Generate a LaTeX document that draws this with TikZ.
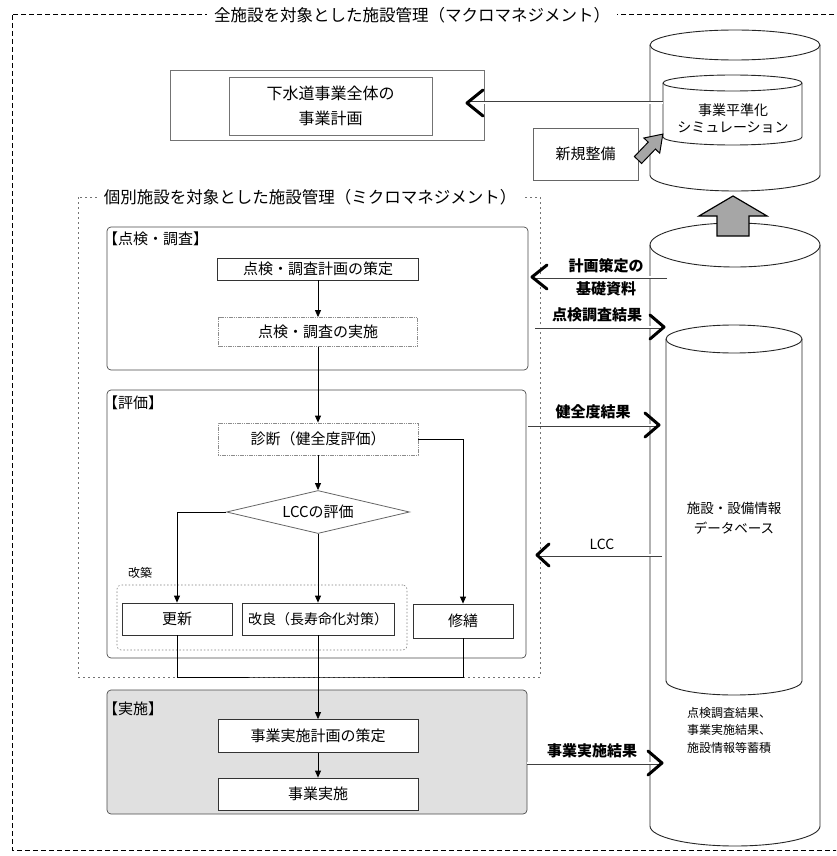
\documentclass[tikz,border=0pt]{standalone}
\usepackage{fontspec}
\setmainfont{Noto Sans CJK JP}
\usetikzlibrary{shapes.geometric,arrows.meta,calc}
\begin{document}
\begin{tikzpicture}[x=1pt,y=-1pt,
 fs/.style={font=\fontsize{#1}{18}\selectfont},
 frm/.style={draw=black!70, line width=0.7pt, rounded corners=4pt, inner sep=0pt},
 box/.style={draw=black!80, line width=0.8pt, fill=white, inner sep=0pt, font=\fontsize{15}{18}\selectfont},
 lbox/.style={box, draw=black!45, dash pattern=on 1.2pt off 0.6pt},
 flow/.style={draw=black, line width=0.8pt, -{Triangle[length=7pt,width=6pt]}},
 fline/.style={draw=black, line width=0.8pt},
 shaftout/.style={draw=black!75, line width=3pt},
 shaftin/.style={draw=white, line width=1.5pt},
 chev/.style={draw=black, line width=3pt, line cap=round, line join=round},
 lbl/.style={font=\bfseries\fontsize{15}{18}\selectfont, inner sep=0pt},
 fat/.style={draw=black, line width=1.2pt, fill=black!35, line join=miter},
 cyl/.style={draw=black!85, line width=0.9pt, fill=white},
 ttl/.style={fill=white, inner xsep=7pt, inner ysep=2pt, font=\fontsize{16.5}{20}\selectfont}
]
\useasboundingbox (0,0) rectangle (836,856);
\clip (0,0) rectangle (836,856);
\fill[white] (0,0) rectangle (836,856);

% macro frame
\draw[black, line width=1pt, dash pattern=on 5pt off 3pt] (12,15) rectangle (900,850);
\node[ttl] (macroT) at (412,15) {全施設を対象とした施設管理（マクロマネジメント）};

% top plan box
\node[draw=black!55, line width=0.7pt, minimum width=314, minimum height=70, inner sep=0pt] (planO) at (327,105) {};
\node[draw=black!55, line width=0.7pt, minimum width=203, minimum height=58, inner sep=0pt, align=center, font=\fontsize{16}{25}\selectfont] (plan) at (330.5,106) {下水道事業全体の\\事業計画};

% simulation cylinder (outer)
\draw[cyl] (650,45) -- (650,175) arc[start angle=180, end angle=360, x radius=85pt, y radius=16pt] -- (820,45) arc[start angle=0, end angle=180, x radius=85pt, y radius=15pt] -- cycle;
\draw[cyl, fill=none] (650,45) arc[start angle=180, end angle=360, x radius=85pt, y radius=15pt];
% inner
\draw[cyl] (663,83) -- (663,137) arc[start angle=180, end angle=360, x radius=69.5pt, y radius=8pt] -- (802,83) arc[start angle=0, end angle=180, x radius=69.5pt, y radius=8pt] -- cycle;
\draw[cyl, fill=none] (663,83) arc[start angle=180, end angle=360, x radius=69.5pt, y radius=8pt];
\node[align=center, font=\fontsize{14}{17}\selectfont] (sim) at (733,118) {事業平準化\\シミュレーション};

% new development box and arrow
\node[box, draw=black!60, minimum width=105, minimum height=52] (newdev) at (585.5,154) {新規整備};
\draw[fat, line width=1pt] (634.4,156.55) -- (648.2,142.15) -- (643.9,138.0) -- (662.8,134.1) -- (659.7,153.2) -- (655.4,149.05) -- (641.6,163.45) -- cycle;

% DB cylinder outer
\draw[cyl] (650,245) -- (650,826) arc[start angle=180, end angle=360, x radius=85pt, y radius=20pt] -- (820,245) arc[start angle=0, end angle=180, x radius=85pt, y radius=22pt] -- cycle;
\draw[cyl, fill=none] (650,245) arc[start angle=180, end angle=360, x radius=85pt, y radius=22pt];
% DB inner
\draw[cyl] (666,339) -- (666,681) arc[start angle=180, end angle=360, x radius=68pt, y radius=14pt] -- (802,339) arc[start angle=0, end angle=180, x radius=68pt, y radius=14pt] -- cycle;
\draw[cyl, fill=none] (666,339) arc[start angle=180, end angle=360, x radius=68pt, y radius=14pt];
\node[align=center, font=\fontsize{13.5}{20}\selectfont] (db) at (734,518) {施設・設備情報\\データベース};
\node[align=left, anchor=north west, inner sep=0pt, font=\fontsize{12}{17.5}\selectfont] (accum) at (687,707) {点検調査結果、\\事業実施結果、\\施設情報等蓄積};

% fat up arrow
\draw[fat] (733,196) -- (767,216) -- (749,216) -- (749,236) -- (717,236) -- (717,216) -- (699,216) -- cycle;

% micro frame
\draw[black!55, line width=0.6pt, dash pattern=on 2pt off 3pt] (78,197) rectangle (540,677);
\node[ttl] (microT) at (310,197) {個別施設を対象とした施設管理（ミクロマネジメント）};

% inspection frame
\node[frm, minimum width=421, minimum height=143] (inspF) at (317.5,298.5) {};
\node[anchor=west, inner sep=0pt, fs=15] (inspL) at (103,239) {【点検・調査】};
\node[box, minimum width=201, minimum height=22] (plan1) at (318,269) {点検・調査計画の策定};
\node[lbox, minimum width=199, minimum height=29] (insp2) at (318,332) {点検・調査の実施};

% evaluation frame
\node[frm, minimum width=419, minimum height=268] (evalF) at (316.5,524) {};
\node[anchor=west, inner sep=0pt, fs=15] (evalL) at (103,403) {【評価】};
\node[lbox, minimum width=200, minimum height=32] (diag) at (318,439) {診断（健全度評価）};
\node[diamond, draw=black!60, line width=0.8pt, aspect=4.2, minimum width=183, minimum height=43, inner sep=0pt, fill=white, fs=15] (lcc) at (318,512) {LCCの評価};
\node[draw=black!50, line width=0.6pt, dash pattern=on 1.5pt off 2pt, rounded corners=4pt, minimum width=290, minimum height=65, inner sep=0pt] (kaiF) at (262,617.5) {};
\node[inner sep=0pt, fs=12] (kaiL) at (140,573) {改築};
\node[box, minimum width=110, minimum height=32] (renew) at (177,619) {更新};
\node[box, minimum width=152, minimum height=32, font=\fontsize{14}{17}\selectfont] (improve) at (318,619) {改良（長寿命化対策）};
\node[box, minimum width=100, minimum height=34] (repair) at (463,621) {修繕};

% implementation frame
\node[frm, fill=black!12, minimum width=420, minimum height=124] (implF) at (317,752) {};
\node[anchor=west, inner sep=0pt, fs=15] (implL) at (103,709) {【実施】};
\node[box, minimum width=200, minimum height=33] (eplan) at (318,736) {事業実施計画の策定};
\node[box, minimum width=200, minimum height=32] (exec) at (318,794) {事業実施};

% flow connectors
\draw[flow] (plan1) -- (insp2);
\draw[flow] (insp2) -- (diag);
\draw[flow] (diag) -- (lcc);
\draw[flow] (lcc.west) -| (renew.north);
\draw[flow] (lcc.south) -- (improve.north);
\draw[flow] (diag.east) -| (repair.north);
\coordinate (mrg) at (318,677);
\draw[fline] (renew.south) |- (mrg) -| (repair.south);
\draw[flow] (improve.south) -- (eplan.north);
\draw[flow] (eplan) -- (exec);

% double arrows
\coordinate (simL) at (663,103);
\coordinate (simT) at (467,103);
\draw[shaftout] (simL) -- (simT);
\draw[shaftin] (simL) -- (simT);
\draw[chev] ([shift={(16,-13)}]simT) -- (simT) -- ([shift={(16,13)}]simT);

\coordinate (aS) at (667,277);
\coordinate (aT) at (532,277);
\draw[shaftout] (aS) -- (aT);
\draw[shaftin] (aS) -- (aT);
\draw[chev] ([shift={(15,-12)}]aT) -- (aT) -- ([shift={(15,12)}]aT);
\node[align=center, font=\bfseries\fontsize{15}{23}\selectfont, inner sep=0pt] (aL) at (606,277) {計画策定の\\基礎資料};

\coordinate (bS) at (535,327);
\coordinate (bT) at (664,327);
\draw[shaftout] (bS) -- (bT);
\draw[shaftin] (bS) -- (bT);
\draw[chev] ([shift={(-14,-12)}]bT) -- (bT) -- ([shift={(-14,12)}]bT);
\node[lbl] (bL) at (597,315) {点検調査結果};

\coordinate (cS) at (528,425);
\coordinate (cT) at (659,425);
\draw[shaftout] (cS) -- (cT);
\draw[shaftin] (cS) -- (cT);
\draw[chev] ([shift={(-14,-12)}]cT) -- (cT) -- ([shift={(-14,12)}]cT);
\node[lbl] (cL) at (593,412) {健全度結果};

\coordinate (dS) at (662,555);
\coordinate (dT) at (537,555);
\draw[shaftout] (dS) -- (dT);
\draw[shaftin] (dS) -- (dT);
\draw[chev] ([shift={(12,-11)}]dT) -- (dT) -- ([shift={(12,11)}]dT);
\node[inner sep=0pt, fs=14] (dL) at (602,544) {LCC};

\coordinate (eS) at (527,763);
\coordinate (eT) at (662,763);
\draw[shaftout] (eS) -- (eT);
\draw[shaftin] (eS) -- (eT);
\draw[chev] ([shift={(-14,-12)}]eT) -- (eT) -- ([shift={(-14,12)}]eT);
\node[lbl] (eL) at (592,751) {事業実施結果};
\end{tikzpicture}
\end{document}
